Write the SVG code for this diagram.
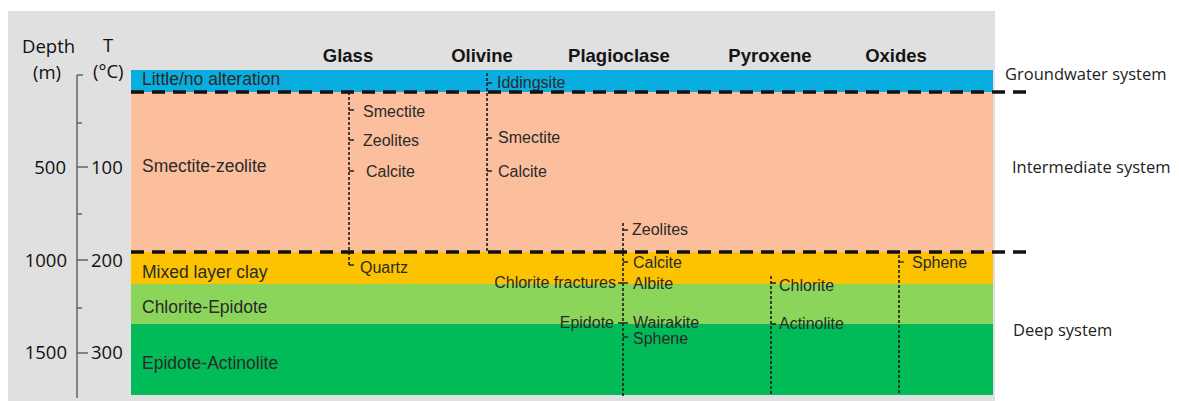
<svg xmlns="http://www.w3.org/2000/svg" width="1179" height="401" viewBox="0 0 1179 401">
<style>
.ax{font-family:"Open Sans","Liberation Sans",sans-serif;font-size:18.5px;fill:#111}
.sys{font-family:"Open Sans","Liberation Sans",sans-serif;font-size:16.5px;fill:#222}
.hd{font-family:"Liberation Sans",Arial,sans-serif;font-size:18.5px;font-weight:bold;fill:#151515;text-anchor:middle}
.bl{font-family:"Liberation Sans",Arial,sans-serif;font-size:17.5px;fill:#2a2a2a}
.lb{font-family:"Liberation Sans",Arial,sans-serif;font-size:16px;fill:#2a2a2a}
.r{text-anchor:end}
.dot{stroke:#1a1a1a;stroke-width:1.6;stroke-dasharray:3 2;fill:none}
.tk{stroke:#222;stroke-width:1.3;fill:none}
.dash{stroke:#111;stroke-width:3.5;stroke-dasharray:13 8;fill:none}
.axl{stroke:#666;stroke-width:1.5;fill:none}
</style>
<rect x="0" y="0" width="1179" height="401" fill="#ffffff"/>
<rect x="8" y="11" width="987" height="390" fill="#e0e0e0"/>

<g id="axis">
<line class="axl" x1="77" y1="75" x2="77" y2="398"/>
<path class="axl" d="M77 75H83M77 123H82M77 214H82M77 308H82M77 167H88M77 260H88M77 353H88"/>
<text class="ax" x="22" y="53">Depth</text>
<text class="ax" x="33" y="79">(m)</text>
<text class="ax" x="108" y="52" text-anchor="middle">T</text>
<text class="ax" x="93" y="78">(°C)</text>
<text class="ax r" x="66" y="174">500</text>
<text class="ax r" x="67" y="267">1000</text>
<text class="ax r" x="67" y="359">1500</text>
<text class="ax" x="91" y="174">100</text>
<text class="ax" x="91" y="267">200</text>
<text class="ax" x="91" y="359">300</text>
</g>

<g id="band-little">
<rect x="131" y="70" width="862" height="22" fill="#0aade0"/>
<text class="bl" x="142" y="85">Little/no alteration</text>
</g>
<g id="band-smectite">
<rect x="131" y="92" width="862" height="160" fill="#fbbf9d"/>
<text class="bl" x="142" y="172">Smectite-zeolite</text>
</g>
<g id="band-mixed">
<rect x="131" y="252" width="862" height="32" fill="#fdc300"/>
<text class="bl" x="142" y="278">Mixed layer clay</text>
</g>
<g id="band-chlorite">
<rect x="131" y="284" width="862" height="40" fill="#8bd65a"/>
<text class="bl" x="142" y="313">Chlorite-Epidote</text>
</g>
<g id="band-epidote">
<rect x="131" y="324" width="862" height="71" fill="#00bb58"/>
<text class="bl" x="142" y="369">Epidote-Actinolite</text>
</g>

<g id="headers">
<text class="hd" x="348" y="62">Glass</text>
<text class="hd" x="482" y="62">Olivine</text>
<text class="hd" x="619" y="62">Plagioclase</text>
<text class="hd" x="770" y="62">Pyroxene</text>
<text class="hd" x="896" y="62">Oxides</text>
</g>

<g id="col-glass">
<line class="dot" x1="349" y1="92" x2="349" y2="265"/>
<path class="tk" d="M349 110H354M349 140H354M349 171H354M349 265H354"/>
<text class="lb" x="363" y="117">Smectite</text>
<text class="lb" x="363" y="146">Zeolites</text>
<text class="lb" x="366" y="177">Calcite</text>
<text class="lb" x="360" y="273">Quartz</text>
</g>

<g id="col-olivine">
<line class="dot" x1="487" y1="73" x2="487" y2="252"/>
<path class="tk" d="M487 83H492M487 138H492M487 171H492"/>
<text class="lb" x="497" y="88">Iddingsite</text>
<text class="lb" x="498" y="143">Smectite</text>
<text class="lb" x="498" y="177">Calcite</text>
</g>

<g id="col-plagioclase">
<line class="dot" x1="623" y1="223" x2="623" y2="396"/>
<path class="tk" d="M623 230H628M623 262H628M618 283H628M618 323H628M623 337H628"/>
<text class="lb" x="632" y="235">Zeolites</text>
<text class="lb" x="633" y="268">Calcite</text>
<text class="lb" x="633" y="289">Albite</text>
<text class="lb r" x="616" y="288">Chlorite fractures</text>
<text class="lb r" x="614" y="328">Epidote</text>
<text class="lb" x="633" y="328">Wairakite</text>
<text class="lb" x="633" y="344">Sphene</text>
</g>

<g id="col-pyroxene">
<line class="dot" x1="771" y1="276" x2="771" y2="395"/>
<path class="tk" d="M771 283H776M771 324H776"/>
<text class="lb" x="779" y="291">Chlorite</text>
<text class="lb" x="779" y="329">Actinolite</text>
</g>

<g id="col-oxides">
<line class="dot" x1="899" y1="255" x2="899" y2="394"/>
<path class="tk" d="M899 262H904"/>
<text class="lb" x="912" y="268">Sphene</text>
</g>

<g id="connectors">
<line class="dash" x1="131" y1="92" x2="1031" y2="92"/>
<line class="dash" x1="131" y1="252" x2="1031" y2="252"/>
</g>

<g id="systems">
<text class="sys" x="1005" y="80">Groundwater system</text>
<text class="sys" x="1012" y="173">Intermediate system</text>
<text class="sys" x="1013" y="336">Deep system</text>
</g>
</svg>
